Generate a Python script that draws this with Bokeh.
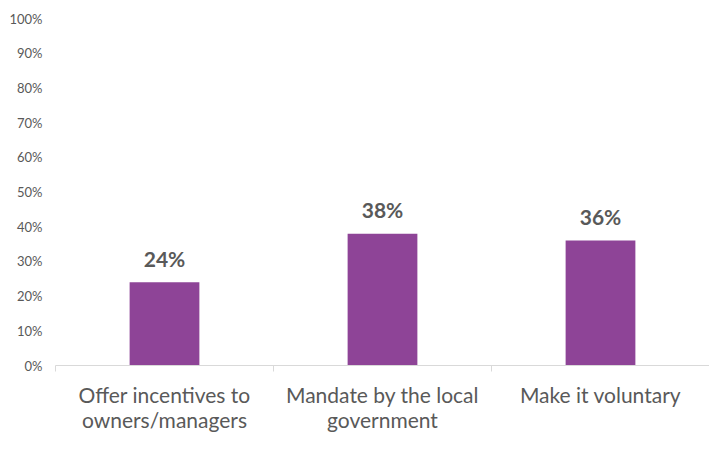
from bokeh.plotting import figure
from bokeh.models import FixedTicker, PrintfTickFormatter, ColumnDataSource, Range1d
from bokeh.core.properties import value
from bokeh.embed import file_html
from bokeh.resources import INLINE

categories = ["Offer incentives to\nowners/managers", "Mandate by the local\ngovernment", "Make it voluntary"]
values = [24, 38, 36]
y_ticks = [0, 10, 20, 30, 40, 50, 60, 70, 80, 90, 100]

xs = [i + 0.5 for i in range(len(categories))]
src = ColumnDataSource(dict(x=xs, top=values, label=[f"{v}%" for v in values]))

p = figure(width=709, height=434, output_backend="svg", toolbar_location=None,
           x_range=Range1d(0, len(categories)), y_range=Range1d(0, 100),
           min_border_left=55, min_border_right=0, min_border_top=18, min_border_bottom=40)
p.outline_line_color = None
p.xgrid.visible = False
p.ygrid.visible = False
p.background_fill_color = "white"
p.border_fill_color = "white"

p.vbar(x="x", top="top", width=0.32, bottom=0, source=src, color="#8E4497", line_color=None)
p.text(x="x", y="top", text="label", source=src, text_font=value("Lato"), text_font_style="bold",
       text_font_size="21px", text_color="#595959", text_align="center", text_baseline="middle",
       y_offset=-24)

# x axis
p.xaxis.ticker = FixedTicker(ticks=xs, minor_ticks=list(range(len(categories) + 1)))
p.xaxis.major_label_overrides = {x: c for x, c in zip(xs, categories)}
p.xaxis.major_tick_line_color = None
p.xaxis.major_tick_out = 0
p.xaxis.minor_tick_line_color = "#D9D9D9"
p.xaxis.minor_tick_out = 6
p.xaxis.minor_tick_in = 0
p.xaxis.axis_line_color = "#D9D9D9"
p.xaxis.axis_line_width = 1
p.xaxis.major_label_text_font = "Lato"
p.xaxis.major_label_text_font_size = "21px"
p.xaxis.major_label_text_line_height = 1.0
p.xaxis.major_label_text_color = "#595959"
p.xaxis.major_label_standoff = 10

# y axis
p.yaxis.ticker = FixedTicker(ticks=y_ticks)
p.yaxis.formatter = PrintfTickFormatter(format="%d%%")
p.yaxis.axis_line_color = None
p.yaxis.major_tick_line_color = None
p.yaxis.major_tick_out = 0
p.yaxis.minor_tick_line_color = None
p.yaxis.major_label_text_font = "Lato"
p.yaxis.major_label_text_font_size = "13px"
p.yaxis.major_label_text_color = "#595959"
p.yaxis.major_label_standoff = 13

open("out.html", "w").write(file_html(p, INLINE))
